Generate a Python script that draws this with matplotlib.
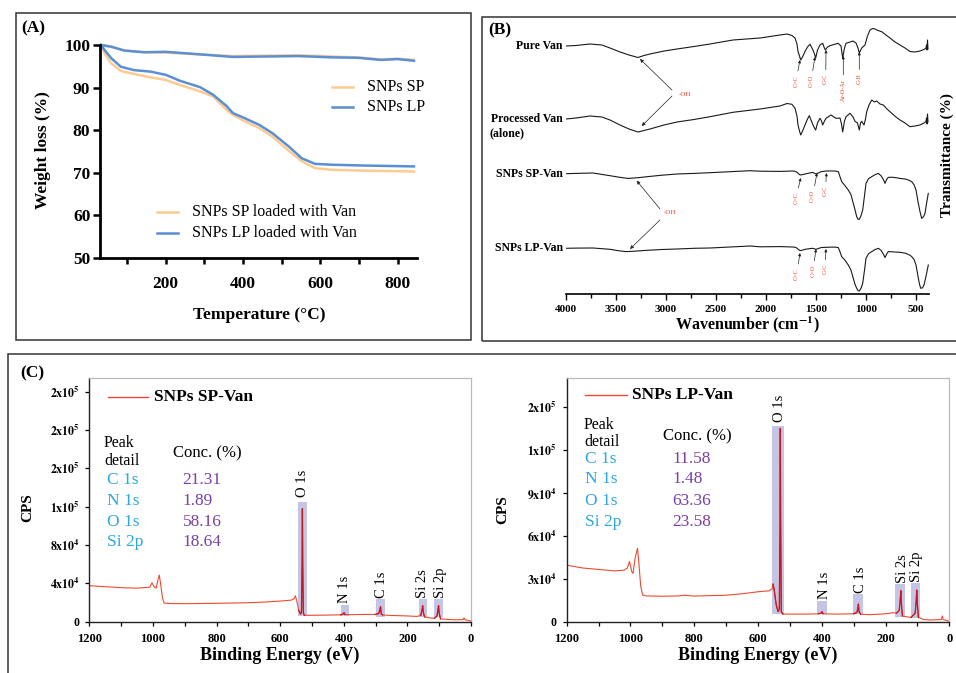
import numpy as np
import matplotlib
matplotlib.use('Agg')
import matplotlib.pyplot as plt
from matplotlib.patches import Rectangle
from matplotlib.lines import Line2D

plt.rcParams['font.family'] = ['Liberation Serif', 'DejaVu Serif']
plt.rcParams['mathtext.fontset'] = 'stix'

# ---------------- data: (A) TGA ----------------
tga_T_bare = [33, 59, 93, 144, 200, 289, 374, 459, 544, 629, 697, 757, 799, 842]
tga_sp_bare = [100, 99.6, 98.7, 98.3, 98.2, 97.8, 97.4, 97.5, 97.6, 97.3, 97.1, 96.6, 96.8, 96.5]
tga_lp_bare = [100, 99.6, 98.7, 98.3, 98.4, 97.8, 97.2, 97.3, 97.4, 97.1, 97.0, 96.5, 96.7, 96.3]
tga_T_loaded = [33, 42, 59, 84, 118, 161, 200, 237, 289, 323, 357, 374, 400, 442, 476, 518, 552, 586, 629, 714, 842]
tga_sp_loaded = [100, 98, 95.7, 93.9, 93.2, 92.4, 91.8, 90.6, 89.1, 87.9, 84.8, 83.6, 82.3, 80.5, 78.5, 75.2, 72.7, 71.1, 70.7, 70.5, 70.3]
tga_lp_loaded = [100, 98.8, 96.9, 94.9, 94.1, 93.75, 93.0, 91.6, 90.1, 88.3, 85.7, 84.0, 83.0, 81.25, 79.3, 76.2, 73.4, 72.1, 71.9, 71.7, 71.5]
tga_labels = ['SNPs SP', 'SNPs LP', 'SNPs SP loaded with Van', 'SNPs LP loaded with Van']

# ---------------- data: (B) FTIR (relative transmittance, a.u.) ----------------
ftir_names = ['Pure Van', 'Processed Van', 'SNPs SP-Van', 'SNPs LP-Van']
pure_wn = [4000, 3900, 3760, 3640, 3560, 3460, 3370, 3280, 3220, 3160, 3020, 2890, 2720, 2560, 2330, 2060,
           1860, 1790, 1740, 1710, 1690, 1680, 1665, 1653, 1630, 1610, 1585, 1560, 1530, 1515, 1503, 1485,
           1460, 1433, 1420, 1407, 1385, 1360, 1320, 1280, 1250, 1233, 1215, 1200, 1160, 1130, 1100, 1080,
           1067, 1043, 1010, 985, 960, 935, 910, 880, 843, 800, 760, 710, 660, 610, 560, 510, 460, 420,
           400, 395, 390, 385, 380]
pure_T = [0, 0.5, 2, 1, -2, -6, -9, -11.5, -9.5, -8, -5, -3, -0.5, 2, 6, 8,
          11, 12, 10.5, 8, 2, -5.5, -10, -14, -10, -5.5, -1, 1.7, -4, -8, -12, -4,
          1, 2.7, -1, -4, -1, 0.3, 1.5, 2.7, 0, -12, -2, 2.7, 4, 5, 3, -2,
          -7, -2, 1, 10, 16, 17.5, 17, 15.5, 14.3, 11, 8, 4, 1, -2, -5.5, -6, -5, -3.5,
          -2, 1, -4, 6, -3]
proc_wn = [4000, 3900, 3760, 3640, 3560, 3460, 3370, 3280, 3220, 3160, 3020, 2890, 2720, 2560, 2330, 2060,
           1860, 1790, 1740, 1710, 1690, 1680, 1665, 1653, 1630, 1610, 1585, 1567, 1550, 1530, 1515, 1503,
           1485, 1460, 1445, 1433, 1415, 1400, 1380, 1350, 1320, 1300, 1260, 1245, 1233, 1215, 1200, 1180,
           1160, 1130, 1110, 1085, 1067, 1055, 1043, 1020, 1005, 993, 970, 943, 915, 893, 860, 827, 790,
           743, 700, 660, 610, 560, 510, 460, 420, 400, 395, 390, 385, 380]
proc_T = [0, 1, 3, 2, -1, -6, -10, -13, -11.5, -10, -6, -3, -0.5, 2.3, 6.7, 10,
          13, 15.5, 14.7, 10.7, 3, -6, -12, -16, -11, -6, 0, 3.3, -1, -6, -9, -11,
          -4, 0.7, -2, -6, -2, 0.7, 2, 4, 2, 0.7, 1, -5, -13, -2, 2.3, 4,
          5.7, 2, -2.3, -4, -11, -4, -2.3, -6, 0, 7.3, 14, 19, 17, 18, 15, 14, 10,
          5.7, 2, -1, -4, -7.7, -7, -6, -4, -2.3, 1, -5, 5, -3]
sp_wn = [4000, 3900, 3730, 3560, 3470, 3380, 3280, 3190, 3040, 2890, 2720, 2560, 2360, 2160, 2060, 1860,
         1727, 1700, 1680, 1660, 1640, 1610, 1560, 1533, 1500, 1470, 1450, 1400, 1330, 1300, 1277, 1260,
         1243, 1210, 1177, 1150, 1127, 1110, 1093, 1080, 1067, 1050, 1033, 1015, 1000, 975, 943, 910,
         877, 850, 825, 810, 795, 777, 740, 700, 660, 600, 560, 543, 520, 500, 480, 460, 443, 425,
         410, 395, 377]
sp_T = [0, 0.3, 0.7, -2, -3.5, -4.7, -4, -3, -1.5, -0.3, 0.3, 1, 2, 3, 2.5, 2.3,
        2.7, 2, 0.5, -1.3, -1, -0.3, 0.8, 1.3, -0.3, 1, 2, 2.7, 2.7, 2.6, 2, -3,
        -8, -12, -16.3, -21, -29.7, -36, -43, -45.5, -45.7, -42, -36.3, -22, -9.7, -5, -3, -1,
        0.3, -2, -6, -9.7, -6, -3.7, -3.5, -4, -4.7, -5.5, -7, -8, -11, -16.3, -28, -38, -44.7, -43,
        -39.7, -30, -19.7]
lp_wn = [4000, 3900, 3730, 3560, 3470, 3400, 3300, 3190, 3040, 2890, 2720, 2560, 2360, 2160, 2060, 1860,
         1727, 1700, 1680, 1660, 1640, 1610, 1560, 1533, 1500, 1470, 1450, 1400, 1330, 1300, 1277, 1260,
         1243, 1210, 1177, 1150, 1127, 1110, 1093, 1080, 1067, 1050, 1033, 1015, 1000, 975, 943, 910,
         877, 850, 825, 810, 795, 777, 740, 700, 660, 600, 560, 543, 520, 500, 480, 465, 453, 435,
         420, 400, 377]
lp_T = [0, 0.2, 0.3, -1, -2.5, -3.3, -2.8, -2, -1.2, -0.7, 0, 0.3, 1.3, 2.3, 1.5, 1.7,
        1.3, 0.8, -0.8, -2.3, -2, -1, -0.3, 0, -1, 0, 0.7, 1, 1.2, 1.1, 0.7, -3.5,
        -8.3, -12, -16.7, -22, -30, -36, -40, -42.3, -42.7, -40, -35, -22, -10, -5.5, -3.3, -1.3,
        0, -2, -6, -9.3, -6, -3.3, -3.5, -3.8, -4, -5, -7, -8.3, -11, -16.7, -28, -36, -40, -39.5,
        -36.7, -28, -16.7]

# ---------------- data: (C) XPS ----------------
xps_sp_be = [1200, 1150, 1100, 1050, 1010, 1003, 995, 990, 984, 980, 976, 970, 965, 950, 900, 850, 800,
             750, 700, 650, 600, 565, 556, 552, 548, 542, 536, 533, 531, 530, 529, 527, 524, 500, 450,
             410, 402, 399, 396, 380, 350, 300, 290, 286, 284.5, 282, 278, 250, 200, 170, 158, 154, 152,
             150, 146, 130, 115, 107, 104, 102, 100, 96, 80, 50, 25, 22, 19, 10, 0]
xps_sp_cps = [37600, 36500, 35500, 35000, 36000, 40500, 36000, 35000, 44000, 48700, 40000, 25000, 19500,
              19000, 18800, 19000, 19200, 19500, 19800, 20500, 21500, 22500, 24000, 27000, 22000, 12000,
              8000, 10000, 60000, 118000, 60000, 9000, 6700, 6700, 6900, 7200, 8000, 9400, 7500, 7300,
              7500, 7700, 8500, 13000, 15700, 8000, 7000, 6500, 6000, 5500, 6500, 12000, 16700, 10000,
              5000, 4000, 3600, 6000, 12000, 16700, 9000, 3000, 2500, 2000, 2200, 4000, 2000, 1500, 500]
xps_lp_be = [1200, 1150, 1100, 1050, 1020, 1010, 1003, 996, 992, 985, 978, 974, 968, 962, 950, 900, 850,
             830, 800, 750, 700, 650, 600, 565, 556, 553, 549, 543, 537, 533, 531, 530, 529, 527, 522,
             500, 450, 410, 402, 399, 396, 350, 300, 290, 287, 285, 283, 278, 250, 200, 175, 165, 157,
             154, 152, 150, 147, 135, 120, 107, 104, 102, 100, 97, 80, 60, 25, 22, 19, 10, 0]
xps_lp_cps = [39500, 37500, 36500, 35500, 36000, 37500, 42000, 35000, 33700, 45000, 51200, 42000, 25000,
              18600, 18000, 17800, 18000, 18500, 17900, 18200, 18500, 19500, 20900, 21600, 23000, 26300,
              22000, 12000, 7000, 9000, 70000, 135000, 70000, 7000, 5300, 5300, 5300, 5500, 6000, 7000,
              5500, 5300, 5500, 6500, 9000, 12300, 7000, 5200, 4900, 5500, 6300, 6000, 8000, 15000, 21600,
              12000, 4000, 3500, 3000, 6000, 14000, 22100, 12000, 3000, 1500, 1200, 1500, 4000, 1500, 1000, 300]
peak_names = ['O 1s', 'N 1s', 'C 1s', 'Si 2s', 'Si 2p']
sp_box_be = [(545, 517), (410, 385), (300, 270), (165, 139), (115, 87)]
sp_box_cps = [(6000, 125000), (5900, 17400), (5200, 23300), (5200, 23300), (5000, 23300)]
lp_box_be = [(555, 518), (414, 385), (303, 272), (170, 139), (121, 92)]
lp_box_cps = [(5350, 137000), (5350, 14650), (5350, 19070), (3490, 26000), (2330, 26700)]
elements = ['C 1s', 'N 1s', 'O 1s', 'Si 2p']
conc_sp = [21.31, 1.89, 58.16, 18.64]
conc_lp = [11.58, 1.48, 63.36, 23.58]
sp_yticks = [0, 4e4, 8e4, 1.2e5, 1.6e5, 2.0e5, 2.4e5]
sp_yticklabels = ['0', r'$\mathbf{4x10^{4}}$', r'$\mathbf{8x10^{4}}$', r'$\mathbf{1x10^{5}}$',
                  r'$\mathbf{2x10^{5}}$', r'$\mathbf{2x10^{5}}$', r'$\mathbf{2x10^{5}}$']
lp_yticks = [0, 3e4, 6e4, 9e4, 1.2e5, 1.5e5]
lp_yticklabels = ['0', r'$\mathbf{3x10^{4}}$', r'$\mathbf{6x10^{4}}$', r'$\mathbf{9x10^{4}}$',
                  r'$\mathbf{1x10^{5}}$', r'$\mathbf{2x10^{5}}$']

# ---------------- figure ----------------
W, H = 956, 673
fig = plt.figure(figsize=(W / 100, H / 100), dpi=100)


def fx(x):
    return x / W


def fy(y):
    return 1 - y / H


def px_axes(l, t, r, b):
    return fig.add_axes([l / W, 1 - b / H, (r - l) / W, (b - t) / H])


def ftext(x, y, s, **kw):
    kw.setdefault('ha', 'center')
    kw.setdefault('va', 'center')
    return fig.text(fx(x), fy(y), s, **kw)


def fline(x0, x1, y, **kw):
    fig.add_artist(Line2D([fx(x0), fx(x1)], [fy(y), fy(y)], transform=fig.transFigure, **kw))


# panel frames
for (l, t, r, b) in [(16, 13, 471, 340), (482, 17, 962, 341), (8, 354, 962, 680)]:
    fig.add_artist(Rectangle((fx(l), fy(b)), (r - l) / W, (b - t) / H, transform=fig.transFigure,
                             fill=False, lw=1.1, ec='#333333'))

# ================= (A) =================
ORANGE = '#FDCB92'
BLUE = '#5B8FD5'
axA = px_axes(100, 45, 417, 258)
axA.plot(tga_T_bare, tga_sp_bare, color=ORANGE, lw=1.8, clip_on=False)
axA.plot(tga_T_bare, tga_lp_bare, color=BLUE, lw=1.8, clip_on=False)
axA.plot(tga_T_loaded, tga_sp_loaded, color=ORANGE, lw=1.8, clip_on=False)
axA.plot(tga_T_loaded, tga_lp_loaded, color=BLUE, lw=1.8, clip_on=False)
axA.set_xlim(30, 850)
axA.set_ylim(50, 100)
axA.spines[['top', 'right']].set_visible(False)
for s in ['left', 'bottom']:
    axA.spines[s].set_linewidth(2)
axA.set_xticks([200, 400, 600, 800])
axA.set_xticks([100, 300, 500, 700], minor=True)
axA.set_yticks(list(range(50, 101, 10)))
axA.tick_params(axis='both', which='both', direction='out', width=1.8, labelsize=12.5)
axA.tick_params(axis='y', length=5, pad=2)
axA.tick_params(axis='x', which='both', length=4, pad=9)
for lab in axA.get_xticklabels() + axA.get_yticklabels():
    lab.set_fontweight('bold')

for (x0, x1, tx, y, c, s) in [(332, 353, 367, 87, ORANGE, tga_labels[0]),
                              (332, 353, 367, 107, BLUE, tga_labels[1]),
                              (157, 178, 192, 212, ORANGE, tga_labels[2]),
                              (157, 178, 192, 233, BLUE, tga_labels[3])]:
    fline(x0, x1, y, color=c, lw=1.8)
    ftext(tx, y, s, ha='left', fontsize=11.5)

ftext(33, 28, '(A)', fontsize=12.5, fontweight='bold')
ftext(43, 150, 'Weight loss (%)', rotation=90, fontsize=12.5, fontweight='bold')
ftext(259, 315, 'Temperature (°C)', fontsize=12.5, fontweight='bold')

# ================= (B) =================
axB = px_axes(566, 20, 929, 294)
bases = [-46, -119, -173.7, -248.3]
for wn, T, base in zip([pure_wn, proc_wn, sp_wn, lp_wn], [pure_T, proc_T, sp_T, lp_T], bases):
    axB.plot(wn, np.array(T) + base, color='#1a1a1a', lw=0.8)
axB.set_xlim(4000, 370)
axB.set_ylim(-294, -20)
for s in ['top', 'right', 'left']:
    axB.spines[s].set_visible(False)
axB.spines['bottom'].set_linewidth(1.2)
axB.set_yticks([])
axB.set_xticks(list(range(4000, 499, -500)))
axB.set_xticks(list(range(3750, 499, -500)), minor=True)
axB.tick_params(axis='x', which='major', length=4, width=1, pad=4, labelsize=8)
axB.tick_params(axis='x', which='minor', length=3, width=1)
for lab in axB.get_xticklabels():
    lab.set_fontweight('bold')

for name, base in zip(ftir_names, bases):
    axB.text(4030, base, name, ha='right', va='center', fontsize=8.5, fontweight='bold', clip_on=False)
ftext(489, 133, '(alone)', ha='left', fontsize=8.5, fontweight='bold')

RED = '#F0402A'
arrow_kw = dict(arrowstyle='-|>', lw=0.5, color='#222222', mutation_scale=5, shrinkA=0, shrinkB=0)
axB.text(2810, -94, '-OH', color=RED, fontsize=5, ha='center', va='center')
axB.annotate('', xy=(3260, -59), xytext=(2940, -90), arrowprops=arrow_kw)
axB.annotate('', xy=(3243, -126), xytext=(2940, -96), arrowprops=arrow_kw)
axB.text(2960, -213, '-OH', color=RED, fontsize=5, ha='center', va='center')
axB.annotate('', xy=(3293, -180.7), xytext=(3060, -209), arrowprops=arrow_kw)
axB.annotate('', xy=(3360, -249), xytext=(3060, -220), arrowprops=arrow_kw)

bond_kw = dict(arrowstyle='-|>', lw=0.5, color='#222222', mutation_scale=4, shrinkA=1, shrinkB=0)
bond_labels = [('C=C', 1700, -81, 1660, -60), ('C=O', 1550, -81, 1510, -57), ('C-C', 1403, -79, 1400, -50),
               ('Ar-O-Ar', 1227, -90, 1227, -56), ('C-H', 1067, -79, 1067, -52),
               ('C=C', 1700, -198, 1653, -178), ('C=O', 1533, -196, 1490, -173), ('C-C', 1407, -191, 1395, -173),
               ('C=C', 1693, -274, 1660, -253), ('C=O', 1530, -271, 1500, -249), ('C-C', 1410, -269, 1400, -249)]
for (s, tx, ty, ax_, ay_) in bond_labels:
    axB.annotate(s, xy=(ax_, ay_), xytext=(tx, ty), rotation=90, ha='center', va='center',
                 color=RED, fontsize=4.5, arrowprops=bond_kw)

ftext(500, 30, '(B)', fontsize=12.5, fontweight='bold')
ftext(747, 325, r'Wavenumber (cm$^{\mathbf{-1}}$)', fontsize=11.5, fontweight='bold')
ftext(947, 155, 'Transmittance (%)', rotation=90, fontsize=11, fontweight='bold')

# ================= (C) =================
CYAN = '#2AA8E0'
PURPLE = '#7B40A6'
XRED = '#EE4A30'
DRED = '#C8161A'
BOXC = '#B0B0E0'


def xps_panel(ax, be, cps, box_be, box_cps, yticks, yticklabels, ymax, lab_pos):
    be = np.array(be)
    cps = np.array(cps)
    for (hi, lo), (c0, c1) in zip(box_be, box_cps):
        ax.add_patch(Rectangle((lo, c0), hi - lo, c1 - c0, facecolor=BOXC, edgecolor='none', alpha=0.75, zorder=1))
    ax.plot(be, cps, color=XRED, lw=0.8, zorder=2)
    for (hi, lo) in box_be:
        m = (be <= hi) & (be >= lo)
        ax.plot(be[m], cps[m], color=DRED, lw=0.9, zorder=3)
    for name, (x, y) in zip(peak_names, lab_pos):
        ax.text(x, y, name, rotation=90, ha='center', va='bottom', fontsize=10.5, zorder=4)
    ax.set_xlim(1200, 0)
    ax.set_ylim(0, ymax)
    ax.set_xticks(list(range(1200, -1, -200)))
    ax.set_xticks(list(range(1100, 0, -200)), minor=True)
    ax.set_yticks(yticks)
    ax.set_yticklabels(yticklabels)
    for s in ['top', 'right']:
        ax.spines[s].set_color('#BBBBBB')
        ax.spines[s].set_linewidth(0.9)
    for s in ['left', 'bottom']:
        ax.spines[s].set_color('#222222')
        ax.spines[s].set_linewidth(1.0)
    ax.tick_params(axis='x', which='both', length=3, width=0.9, pad=5, labelsize=9)
    ax.tick_params(axis='y', length=3, width=0.9, pad=4, labelsize=8.5)
    for lab in ax.get_xticklabels() + ax.get_yticklabels():
        lab.set_fontweight('bold')


axC1 = px_axes(89.3, 378.3, 471, 621.7)
xps_panel(axC1, xps_sp_be, xps_sp_cps, sp_box_be, sp_box_cps, sp_yticks, sp_yticklabels, 2.54e5,
          [(529, 130400), (398, 19100), (281, 24300), (152, 24300), (97, 24300)])
axC2 = px_axes(566.7, 378.3, 949.3, 621.7)
xps_panel(axC2, xps_lp_be, xps_lp_cps, lp_box_be, lp_box_cps, lp_yticks, lp_yticklabels, 1.70e5,
          [(531, 139500), (390, 15600), (280, 19800), (146, 26700), (102, 27900)])

# legends
fline(108, 148, 396.7, color=XRED, lw=1.0)
ftext(154, 396.7, 'SNPs SP-Van', ha='left', fontsize=12.5, fontweight='bold')
fline(585, 627, 395, color=XRED, lw=1.0)
ftext(631.7, 395, 'SNPs LP-Van', ha='left', fontsize=12.5, fontweight='bold')

# concentration tables
for (px0, py_peak, py_det, cx, cy, ex, ey_list, vx, conc) in [
        (104, 443, 461, 172.7, 453, 106.7, [480, 500.7, 521.7, 541.7], 182.7, conc_sp),
        (584, 425, 441.5, 662.7, 436.7, 585.3, [459, 479.3, 500.7, 521.7], 672.7, conc_lp)]:
    ftext(px0, py_peak, 'Peak', ha='left', fontsize=11.5)
    ftext(px0, py_det, 'detail', ha='left', fontsize=11.5)
    ftext(cx, cy, 'Conc. (%)', ha='left', fontsize=12)
    for el, yy, val in zip(elements, ey_list, conc):
        ftext(ex, yy, el, ha='left', fontsize=12.5, color=CYAN)
        ftext(vx, yy, f'{val:.2f}', ha='left', fontsize=12.5, color=PURPLE)

ftext(32, 373, '(C)', fontsize=12.5, fontweight='bold')
ftext(28, 508, 'CPS', rotation=90, fontsize=11, fontweight='bold')
ftext(503, 510, 'CPS', rotation=90, fontsize=11, fontweight='bold')
ftext(280, 655, 'Binding Energy (eV)', fontsize=13, fontweight='bold')
ftext(758, 655, 'Binding Energy (eV)', fontsize=13, fontweight='bold')

fig.savefig('out.png', dpi=100)
